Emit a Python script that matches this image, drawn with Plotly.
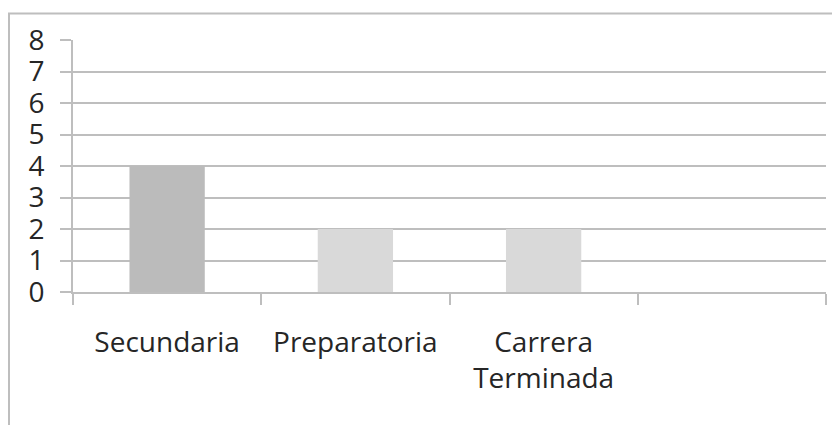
import plotly.graph_objects as go

categories = ["Secundaria", "Preparatoria", "Carrera<br>Terminada", ""]
values = [4, 2, 2, None]
bar_colors = ["#bbbbbb", "#d9d9d9", "#d9d9d9", "#d9d9d9"]
y_ticks = [0, 1, 2, 3, 4, 5, 6, 7, 8]

grid = "#bebebe"
font = dict(family="Open Sans", size=28, color="#262626")

# page body has an 8px margin, so the figure starts at (8, 8) in the window
W, H = 832, 417
L, R, T, B = 65, 14, 28, 133
pw, ph = W - L - R, H - T - B

fig = go.Figure(go.Bar(x=categories, y=values, marker_color=bar_colors,
                       marker_line_width=0, width=0.4))

fig.update_layout(
    width=W, height=H,
    margin=dict(l=L, r=R, t=T, b=B),
    paper_bgcolor="white", plot_bgcolor="white",
    showlegend=False, font=font,
    bargap=0.6,
)
fig.update_xaxes(
    type="category", range=[-0.5, 3.5],
    showline=True, linecolor=grid, linewidth=2,
    ticks="outside", tickson="boundaries", ticklen=11, tickwidth=2, tickcolor=grid,
    ticklabelstandoff=24, tickangle=0, showgrid=False,
)
fig.update_yaxes(
    range=[0, 8], tickvals=y_ticks,
    showline=True, linecolor=grid, linewidth=2,
    showgrid=True, gridcolor=grid, gridwidth=2,
    ticks="outside", ticklen=11, tickwidth=2, tickcolor=grid,
    ticklabelstandoff=10, zeroline=False,
)
fig.add_shape(type="rect", xref="paper", yref="paper",
              x0=(1 - L) / pw, x1=(W + 20 - L) / pw,
              y0=-(B + 20) / ph, y1=(ph + T - 1) / ph,
              line=dict(color="#bebebe", width=2), fillcolor="rgba(0,0,0,0)", layer="below")

fig.write_html("out.html")
